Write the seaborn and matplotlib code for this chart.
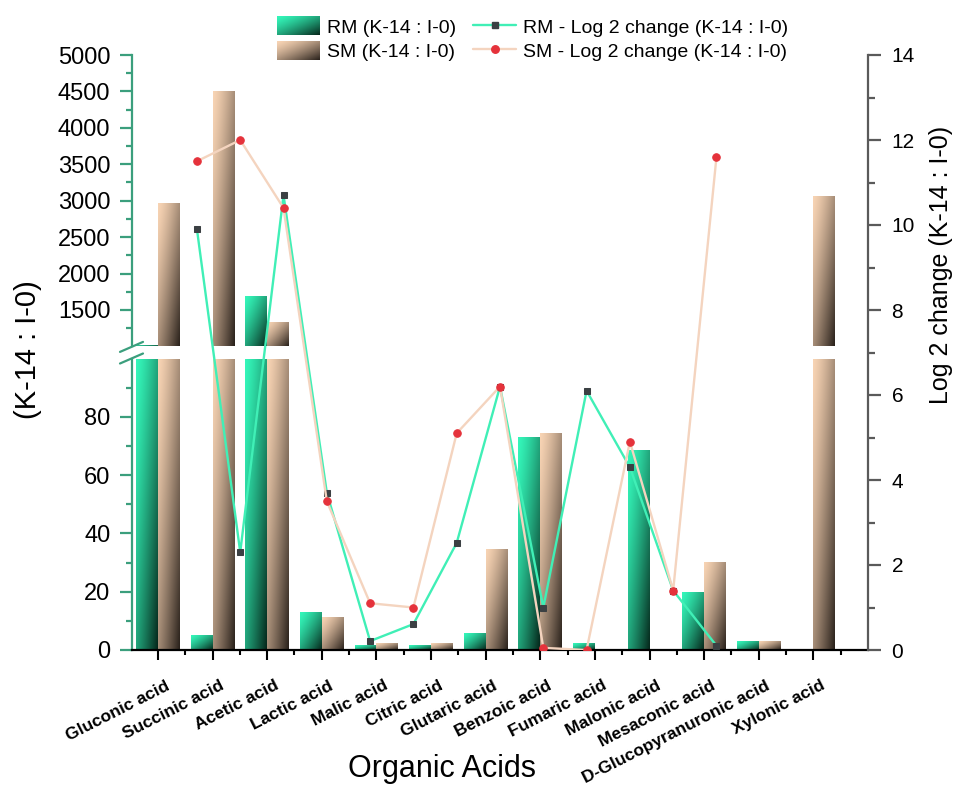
import numpy as np
import pandas as pd
import matplotlib
matplotlib.use("Agg")
import matplotlib.pyplot as plt
import seaborn as sns
from matplotlib.colors import to_rgb
from matplotlib.patches import Rectangle
from matplotlib.lines import Line2D
from matplotlib.legend_handler import HandlerBase
from matplotlib.image import BboxImage
from matplotlib.transforms import Bbox, TransformedBbox, ScaledTranslation
from matplotlib.ticker import FixedLocator

# ---------------- data ----------------
acids = ["Gluconic acid", "Succinic acid", "Acetic acid", "Lactic acid",
         "Malic acid", "Citric acid", "Glutaric acid", "Benzoic acid",
         "Fumaric acid", "Malonic acid", "Mesaconic acid",
         "D-Glucopyranuronic acid", "Xylonic acid"]
rm_ratio = [1010, 5.1, 1680, 12.7, 1.4, 1.7, 5.7, 72.9, 2.3, 68.5, 19.8, 2.9, 0]
sm_ratio = [2950, 4500, 1320, 11.2, 2.3, 2.2, 34.6, 74.4, 0, 0, 30.0, 2.9, 3050]
rm_log2 = [9.9, 2.3, 10.7, 3.7, 0.21, 0.61, 2.52, 6.2, 1.0, 6.1, 4.3, 1.4, 0.1]
sm_log2 = [11.5, 12.0, 10.4, 3.5, 1.1, 1.0, 5.1, 6.2, 0.05, 0.0, 4.9, 1.4, 11.6]
line_pos = list(range(1, 14))

rm_bar_label = "RM (K-14 : I-0)"
sm_bar_label = "SM (K-14 : I-0)"
rm_line_label = "RM - Log 2 change (K-14 : I-0)"
sm_line_label = "SM - Log 2 change (K-14 : I-0)"

# ---------------- style ----------------
sns.set_style("white")
plt.rcParams["font.family"] = ["Liberation Sans", "DejaVu Sans"]
plt.rcParams["text.color"] = "black"
plt.rcParams["axes.labelcolor"] = "black"
plt.rcParams["xtick.color"] = "black"
plt.rcParams["ytick.color"] = "black"

GREEN_AX = "#3b9f7d"
RIGHT_AX = "#5a5a5a"
RM_LIGHT, RM_DARK = np.array(to_rgb("#34f7ba")), np.array(to_rgb("#05261a"))
SM_LIGHT, SM_DARK = np.array(to_rgb("#f8d4b4")), np.array(to_rgb("#28201a"))
RM_LINE, RM_MARK = "#40efb6", "#3b4043"
SM_LINE, SM_MARK = "#f4d4bf", "#e5323b"


def gradient(light, dark, n=80):
    u = np.linspace(0, 1, n)[None, :]
    v = np.linspace(0, 1, n)[:, None]
    t = ((u + v) / 2.0) ** 1.35
    return light[None, None, :] * (1 - t[..., None]) + dark[None, None, :] * t[..., None]


GRAD_RM = gradient(RM_LIGHT, RM_DARK)
GRAD_SM = gradient(SM_LIGHT, SM_DARK)

W, H = 959, 785
fig = plt.figure(figsize=(W / 100, H / 100), dpi=100)


def fx(px):
    return px / W


def fy(px):
    return 1 - px / H


x_left, x_right = 132, 868
y_zero, y_100 = 650, 358.5
y_1000, y_5000 = 346.4, 55

ax_bot = fig.add_axes([fx(x_left), fy(y_zero), fx(x_right - x_left), (y_zero - y_100) / H])
ax_top = fig.add_axes([fx(x_left), fy(y_1000), fx(x_right - x_left), (y_1000 - y_5000) / H])
ax_line = fig.add_axes([fx(x_left), fy(y_zero), fx(x_right - x_left), (y_zero - y_5000) / H])
for a in (ax_bot, ax_top):
    a.set_zorder(1)
    a.patch.set_alpha(0)
ax_line.set_zorder(3)
ax_line.patch.set_alpha(0)

df = pd.DataFrame({
    "acid": acids * 2,
    "group": [rm_bar_label] * len(acids) + [sm_bar_label] * len(acids),
    "ratio": rm_ratio + sm_ratio,
})

xlim = (-0.475, 13.0)
for a, ylim in ((ax_bot, (0, 100)), (ax_top, (1000, 5000))):
    sns.barplot(data=df, x="acid", y="ratio", hue="group", order=acids,
                hue_order=[rm_bar_label, sm_bar_label],
                palette=["#1fb584", "#a38a75"], width=0.8, dodge=True,
                errorbar=None, legend=False, linewidth=0, ax=a)
    # gradient fill for the visible part of every bar
    for cont, grad in zip(a.containers, (GRAD_RM, GRAD_SM)):
        for rect in cont.patches:
            h = rect.get_height()
            lo, hi = max(ylim[0], 0), min(h, ylim[1])
            if h <= 0 or hi <= lo:
                rect.set_visible(False)
                continue
            x0 = rect.get_x()
            a.imshow(grad, extent=[x0, x0 + rect.get_width(), lo, hi],
                     origin="upper", aspect="auto", interpolation="bilinear",
                     zorder=2)
            rect.set_visible(False)
    a.set_xlim(*xlim)
    a.set_ylim(*ylim)
    a.set_xlabel("")
    a.set_ylabel("")
    for s in ("top", "right"):
        a.spines[s].set_visible(False)
    a.spines["left"].set_color(GREEN_AX)
    a.spines["left"].set_linewidth(1.6)
    a.tick_params(axis="y", which="major", direction="out", length=8.6, width=1.6,
                  color=GREEN_AX, labelsize=17, pad=7, labelcolor="black", left=True)
    a.tick_params(axis="y", which="minor", direction="out", length=4.3, width=1.6,
                  color=GREEN_AX, left=True)

# upper (broken) segment of the concentration axis
ax_top.spines["bottom"].set_visible(False)
ax_top.tick_params(axis="x", which="both", bottom=False, labelbottom=False)
ax_top.yaxis.set_major_locator(FixedLocator(list(range(1500, 5001, 500))))
ax_top.yaxis.set_minor_locator(FixedLocator(list(range(1250, 5000, 500))))

# lower segment
ax_bot.yaxis.set_major_locator(FixedLocator([0, 20, 40, 60, 80]))
ax_bot.yaxis.set_minor_locator(FixedLocator([10, 30, 50, 70, 90]))
ax_bot.spines["bottom"].set_color("black")
ax_bot.spines["bottom"].set_linewidth(1.6)
ax_bot.set_xticks(range(len(acids)))
ax_bot.xaxis.set_minor_locator(FixedLocator(np.arange(0.5, len(acids), 1.0)))
ax_bot.set_xticklabels(acids, rotation=27, ha="right", va="top",
                       rotation_mode="anchor", fontsize=12.5, fontweight="bold",
                       color="black")
ax_bot.tick_params(axis="x", which="major", direction="out", length=7, width=1.5,
                   color="black", pad=13.2, bottom=True)
ax_bot.tick_params(axis="x", which="minor", direction="out", length=3.6, width=1.5,
                   color="black", bottom=True)
shift = ScaledTranslation(0.07, 0, fig.dpi_scale_trans)
for lbl in ax_bot.get_xticklabels():
    lbl.set_transform(lbl.get_transform() + shift)

ax_bot.set_xlabel("Organic Acids", fontsize=22, color="black")
ax_bot.xaxis.set_label_coords((442 - x_left) / (x_right - x_left),
                              -(777 - y_zero) / (y_zero - y_100))
ax_bot.xaxis.label.set_va("baseline")

# axis-break marks on the left spine
for yc in (y_1000 + 0.5, y_100):
    fig.add_artist(Line2D([fx(x_left - 12), fx(x_left + 11)],
                          [fy(yc + 5), fy(yc - 5)], color=GREEN_AX, lw=1.6,
                          transform=fig.transFigure, zorder=5))

fig.text(fx(27.5), fy(350), "(K-14 : I-0)", rotation=90, ha="center",
         va="center", fontsize=21, color="black")

# ---------------- log2 change lines ----------------
sns.lineplot(x=line_pos, y=rm_log2, ax=ax_line, color=RM_LINE, lw=1.7,
             marker="s", markersize=4.6, markerfacecolor=RM_MARK,
             markeredgecolor=RM_MARK, sort=False, legend=False, zorder=3)
sns.lineplot(x=line_pos, y=sm_log2, ax=ax_line, color=SM_LINE, lw=1.7,
             marker="o", markersize=5.4, markerfacecolor=SM_MARK,
             markeredgecolor=SM_MARK, sort=False, legend=False, zorder=4)
ax_line.set_xlim(-0.5, 16.5)
ax_line.set_ylim(0, 14)
ax_line.set_xticks([])
for s in ("left", "top", "bottom"):
    ax_line.spines[s].set_visible(False)
ax_line.spines["right"].set_color(RIGHT_AX)
ax_line.spines["right"].set_linewidth(1.6)
ax_line.yaxis.tick_right()
ax_line.yaxis.set_major_locator(FixedLocator(list(range(0, 15, 2))))
ax_line.yaxis.set_minor_locator(FixedLocator(list(range(1, 14, 2))))
ax_line.tick_params(axis="y", which="major", direction="out", length=9, width=1.6,
                    color=RIGHT_AX, labelsize=15, pad=8, right=True, left=False,
                    labelcolor="black")
ax_line.tick_params(axis="y", which="minor", direction="out", length=5, width=1.6,
                    color=RIGHT_AX, right=True, left=False)
ax_line.set_xlabel("")
ax_line.set_ylabel("Log 2 change (K-14 : I-0)", fontsize=18, color="black")
ax_line.yaxis.set_label_position("right")
ax_line.yaxis.set_label_coords((941 - x_left) / (x_right - x_left),
                               (y_zero - 265) / (y_zero - y_5000))
ax_line.yaxis.label.set_va("center")


# ---------------- legend ----------------
class GradientHandler(HandlerBase):
    def __init__(self, grad):
        super().__init__()
        self.grad = grad

    def create_artists(self, legend, orig_handle, xdescent, ydescent,
                       width, height, fontsize, trans):
        bbox = TransformedBbox(Bbox.from_bounds(-xdescent, -ydescent, width, height), trans)
        img = BboxImage(bbox, interpolation="bilinear")
        img.set_data(self.grad)
        return [img]


h_rm = Rectangle((0, 0), 1, 1)
h_sm = Rectangle((0, 0), 1, 1)
h_rm_line = Line2D([], [], color=RM_LINE, lw=1.7, marker="s", markersize=4.6,
                   markerfacecolor=RM_MARK, markeredgecolor=RM_MARK)
h_sm_line = Line2D([], [], color=SM_LINE, lw=1.7, marker="o", markersize=5.4,
                   markerfacecolor=SM_MARK, markeredgecolor=SM_MARK)
leg = fig.legend([h_rm, h_sm, h_rm_line, h_sm_line],
                 [rm_bar_label, sm_bar_label, rm_line_label, sm_line_label],
                 handler_map={h_rm: GradientHandler(GRAD_RM), h_sm: GradientHandler(GRAD_SM)},
                 ncol=2, loc="upper left", bbox_to_anchor=(fx(277), fy(17)),
                 frameon=False, borderpad=0, borderaxespad=0, fontsize=14,
                 handlelength=2.2, handleheight=1.05, labelspacing=0.25,
                 handletextpad=0.35, columnspacing=0.9)
for t in leg.get_texts():
    t.set_color("black")

fig.savefig("out.png", dpi=100)
